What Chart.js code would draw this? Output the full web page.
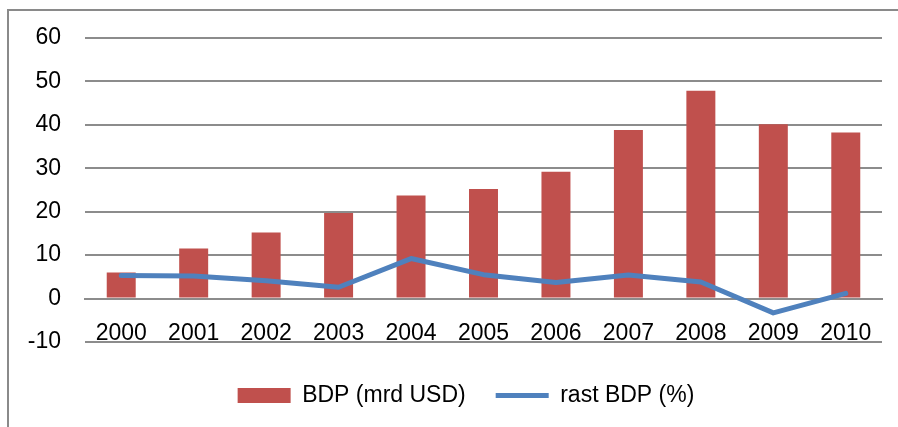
<!DOCTYPE html>
<html>
<head>
<meta charset="utf-8">
<script src="https://cdn.jsdelivr.net/npm/chart.js@4/dist/chart.umd.min.js"></script>
<style>
  html, body { margin: 0; padding: 0; background: #fff; overflow: hidden; }
  #wrap { position: relative; width: 898px; height: 427px; }
  #frame { position: absolute; left: 7px; top: 9px; width: 1000px; height: 1000px;
           border-left: 2px solid #8a8a8a; border-top: 2px solid #8a8a8a; box-sizing: border-box; }
  canvas { position: absolute; left: 0; top: 0; }
</style>
</head>
<body>
<div id="wrap">
  <div id="frame"></div>
  <canvas id="c" width="898" height="427"></canvas>
</div>
<script>
const years = ["2000","2001","2002","2003","2004","2005","2006","2007","2008","2009","2010"];
const gdpBillionUSD = [6.0, 11.5, 15.2, 19.7, 23.7, 25.2, 29.2, 38.8, 47.8, 40.1, 38.2];
const gdpGrowthPct = [5.3, 5.2, 4.1, 2.6, 9.2, 5.5, 3.7, 5.4, 3.8, -3.3, 1.2];
const yTicks = [-10, 0, 10, 20, 30, 40, 50, 60];
const seriesNames = ["BDP (mrd USD)", "rast BDP (%)"];

const FONT = "'Liberation Sans', Arial, sans-serif";
const GRID = '#8c8c8c';

const legendShift = {
  id: 'legendShift',
  afterLayout(chart) {
    const lg = chart.legend;
    if (!lg) return;
    lg.left += 20; lg.right += 20;
    lg.top += 12; lg.bottom += 12;
  }
};

new Chart(document.getElementById('c'), {
  plugins: [legendShift],
  data: {
    labels: years,
    datasets: [
      {
        type: 'bar',
        label: seriesNames[0],
        data: gdpBillionUSD,
        backgroundColor: '#C0504D',
        borderWidth: 0,
        barPercentage: 0.4,
        categoryPercentage: 1.0,
        order: 2,
        pointStyle: 'rect'
      },
      {
        type: 'line',
        label: seriesNames[1],
        data: gdpGrowthPct,
        borderColor: '#4F81BD',
        backgroundColor: '#4F81BD',
        borderWidth: 5,
        borderCapStyle: 'round',
        borderJoinStyle: 'round',
        pointRadius: 0,
        tension: 0,
        fill: false,
        order: 1,
        pointStyle: 'line'
      }
    ]
  },
  options: {
    responsive: false,
    animation: false,
    devicePixelRatio: 1,
    layout: { padding: { left: 10, right: 16, top: 35, bottom: 22 } },
    plugins: {
      title: { display: false },
      tooltip: { enabled: false },
      legend: {
        position: 'bottom',
        labels: {
          usePointStyle: true,
          pointStyleWidth: 53,
          boxHeight: 15,
          padding: 30,
          color: '#000',
          font: { family: FONT, size: 23 },
          sort: (a, b) => a.datasetIndex - b.datasetIndex
        }
      }
    },
    scales: {
      x: {
        position: { y: 0 },
        offset: true,
        grid: { display: false, drawTicks: false },
        border: { display: true, color: GRID, width: 2 },
        ticks: { color: '#000', padding: 21, font: { family: FONT, size: 23 }, maxRotation: 0 }
      },
      y: {
        min: -10,
        max: 60,
        afterBuildTicks: (s) => { s.ticks = yTicks.map(v => ({ value: v })); },
        afterFit: (s) => { s.width = 75; },
        grid: { color: GRID, lineWidth: 2, drawTicks: false },
        border: { display: false },
        ticks: { color: '#000', padding: 24, font: { family: FONT, size: 23 } }
      }
    }
  }
});
</script>
</body>
</html>
